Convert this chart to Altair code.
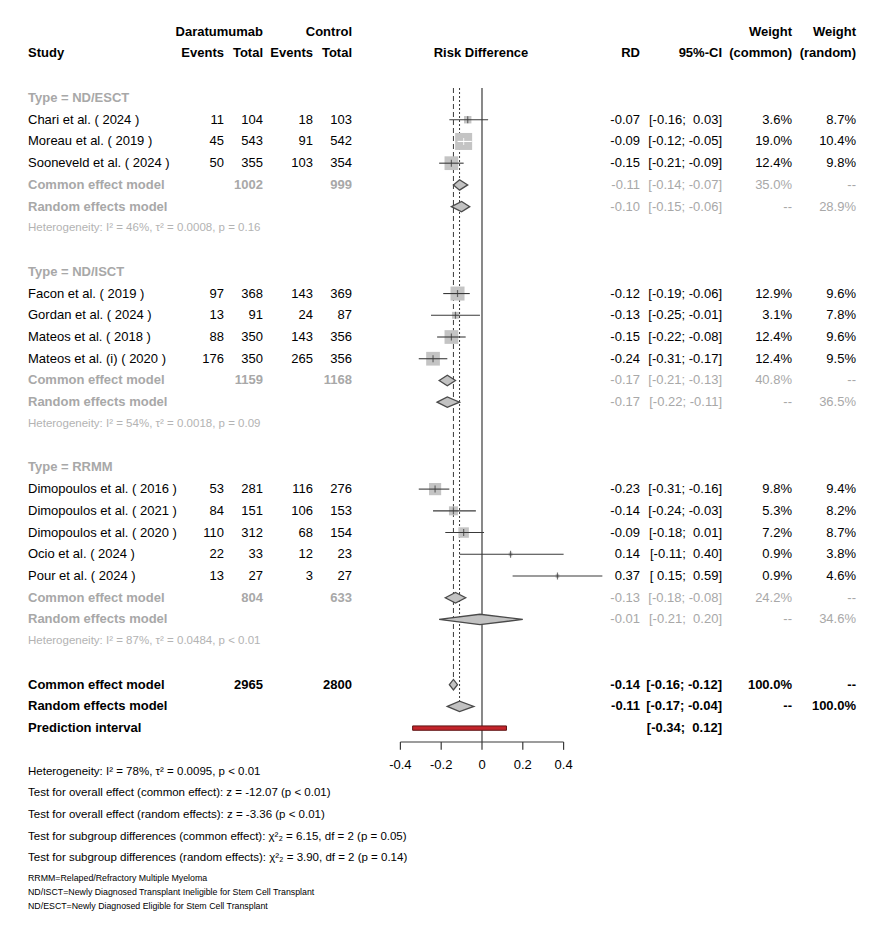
import altair as alt
import pandas as pd
import numpy as np

# ------------------------------------------------------------------ data
groups = ["ND/ESCT", "ND/ISCT", "RRMM"]
studies = ["Chari et al. ( 2024 )", "Moreau et al. ( 2019 )", "Sooneveld et al. ( 2024 )",
           "Facon et al. ( 2019 )", "Gordan et al. ( 2024 )", "Mateos et al. ( 2018 )",
           "Mateos et al. (i) ( 2020 )",
           "Dimopoulos et al. ( 2016 )", "Dimopoulos et al. ( 2021 )", "Dimopoulos et al. ( 2020 )",
           "Ocio et al. ( 2024 )", "Pour et al. ( 2024 )"]
study_group = [0, 0, 0, 1, 1, 1, 1, 2, 2, 2, 2, 2]
ev_d = [11, 45, 50, 97, 13, 88, 176, 53, 84, 110, 22, 13]
tot_d = [104, 543, 355, 368, 91, 350, 350, 281, 151, 312, 33, 27]
ev_c = [18, 91, 103, 143, 24, 143, 265, 116, 106, 68, 12, 3]
tot_c = [103, 542, 354, 369, 87, 356, 356, 276, 153, 154, 23, 27]
rd = [-0.07, -0.09, -0.15, -0.12, -0.13, -0.15, -0.24, -0.23, -0.14, -0.09, 0.14, 0.37]
rd_lo = [-0.16, -0.12, -0.21, -0.19, -0.25, -0.22, -0.31, -0.31, -0.24, -0.18, -0.11, 0.15]
rd_hi = [0.03, -0.05, -0.09, -0.06, -0.01, -0.08, -0.17, -0.16, -0.03, 0.01, 0.40, 0.59]
w_common = [3.6, 19.0, 12.4, 12.9, 3.1, 12.4, 12.4, 9.8, 5.3, 7.2, 0.9, 0.9]
w_random = [8.7, 10.4, 9.8, 9.6, 7.8, 9.6, 9.5, 9.4, 8.2, 8.7, 3.8, 4.6]

grp_tot_d = [1002, 1159, 804]
grp_tot_c = [999, 1168, 633]
grp_ce = [-0.11, -0.17, -0.13]
grp_ce_lo = [-0.14, -0.21, -0.18]
grp_ce_hi = [-0.07, -0.13, -0.08]
grp_re = [-0.10, -0.17, -0.01]
grp_re_lo = [-0.15, -0.22, -0.21]
grp_re_hi = [-0.06, -0.11, 0.20]
grp_w_ce = [35.0, 40.8, 24.2]
grp_w_re = [28.9, 36.5, 34.6]
grp_het = ["Heterogeneity: I\u00b2 = 46%, \u03c4\u00b2 = 0.0008, p = 0.16",
           "Heterogeneity: I\u00b2 = 54%, \u03c4\u00b2 = 0.0018, p = 0.09",
           "Heterogeneity: I\u00b2 = 87%, \u03c4\u00b2 = 0.0484, p < 0.01"]

all_tot_d, all_tot_c = 2965, 2800
all_ce, all_ce_lo, all_ce_hi = -0.14, -0.16, -0.12
all_re, all_re_lo, all_re_hi = -0.11, -0.17, -0.04
pred_lo, pred_hi = -0.34, 0.12

tick_values = [-0.4, -0.2, 0.0, 0.2, 0.4]
tick_labels = ["-0.4", "-0.2", "0", "0.2", "0.4"]

bottom_lines = [
    "Heterogeneity: I\u00b2 = 78%, \u03c4\u00b2 = 0.0095, p < 0.01",
    "Test for overall effect (common effect): z = -12.07 (p < 0.01)",
    "Test for overall effect (random effects): z = -3.36 (p < 0.01)",
    "Test for subgroup differences (common effect): \u03c7\u00b2\u2082 = 6.15, df = 2 (p = 0.05)",
    "Test for subgroup differences (random effects): \u03c7\u00b2\u2082 = 3.90, df = 2 (p = 0.14)",
]
footnotes = [
    "RRMM=Relaped/Refractory Multiple Myeloma",
    "ND/ISCT=Newly Diagnosed Transplant Ineligible for Stem Cell Transplant",
    "ND/ESCT=Newly Diagnosed Eligible for Stem Cell Transplant",
]

# ------------------------------------------------------------------ layout
FONT = "Liberation Sans"
W, H = 870, 930
X0, X1 = -2.3235, 1.9412
Y0, Y1 = -4.142, 38.66
PX_PER_UNIT = W / (X1 - X0)
SQ_MAX_W, SQ_MAX_AREA = 19.0, 289.0
DH = 0.24
BLACK = "#000000"
GREY = "#a8a8a8"
HGREY = "#b3b3b3"
LINE = "#3a3a3a"

xs = alt.Scale(domain=[X0, X1], nice=False, zero=False)
ys = alt.Scale(domain=[Y0, Y1], nice=False, zero=False, reverse=True)


def Yenc(field="row"):
    return alt.Y(f"{field}:Q", scale=ys, axis=None)


def Xenc(field):
    return alt.X(f"{field}:Q", scale=xs, axis=None)


def pad(v):
    return ("\u00a0" if v >= 0 else "") + f"{v:.2f}"


def ci(lo, hi):
    return f"[{pad(lo)}; {pad(hi)}]"


cells = []


def add(row, col, text, bold=False, tone="k"):
    cells.append(dict(row=row, col=col, text=text, bold=bold, tone=tone))


# headers
add(-3.04, "tot_d", "Daratumumab", True)
add(-3.04, "tot_c", "Control", True)
add(-3.04, "wc", "Weight", True)
add(-3.04, "wr", "Weight", True)
add(-2.07, "study", "Study", True)
add(-2.07, "ev_d", "Events", True)
add(-2.07, "tot_d", "Total", True)
add(-2.07, "ev_c", "Events", True)
add(-2.07, "tot_c", "Total", True)
add(-2.07, "rdhead", "Risk Difference", True)
add(-2.07, "rd", "RD", True)
add(-2.07, "ci", "95%-CI", True)
add(-2.07, "wc", "(common)", True)
add(-2.07, "wr", "(random)", True)

study_rows = []
diamonds = []
het_rows = []
row = 0
for g, gname in enumerate(groups):
    add(row, "study", f"Type = {gname}", True, "g")
    row += 1
    for i, s in enumerate(studies):
        if study_group[i] != g:
            continue
        add(row, "study", s)
        add(row, "ev_d", str(ev_d[i]))
        add(row, "tot_d", str(tot_d[i]))
        add(row, "ev_c", str(ev_c[i]))
        add(row, "tot_c", str(tot_c[i]))
        add(row, "rd", f"{rd[i]:.2f}")
        add(row, "ci", ci(rd_lo[i], rd_hi[i]))
        add(row, "wc", f"{w_common[i]:.1f}%")
        add(row, "wr", f"{w_random[i]:.1f}%")
        side = np.sqrt(w_common[i] / SQ_MAX_W * SQ_MAX_AREA)
        inside = (rd_hi[i] - rd_lo[i]) * PX_PER_UNIT < side
        study_rows.append(dict(row=row, rd=rd[i], lo=rd_lo[i], hi=rd_hi[i],
                               w=w_common[i], inside=bool(inside)))
        row += 1
    add(row, "study", "Common effect model", True, "g")
    add(row, "tot_d", str(grp_tot_d[g]), True, "g")
    add(row, "tot_c", str(grp_tot_c[g]), True, "g")
    add(row, "rd", f"{grp_ce[g]:.2f}", False, "g")
    add(row, "ci", ci(grp_ce_lo[g], grp_ce_hi[g]), False, "g")
    add(row, "wc", f"{grp_w_ce[g]:.1f}%", False, "g")
    add(row, "wr", "--", False, "g")
    diamonds.append((f"ce{g}", row, grp_ce[g], grp_ce_lo[g], grp_ce_hi[g]))
    row += 1
    add(row, "study", "Random effects model", True, "g")
    add(row, "rd", f"{grp_re[g]:.2f}", False, "g")
    add(row, "ci", ci(grp_re_lo[g], grp_re_hi[g]), False, "g")
    add(row, "wc", "--", False, "g")
    add(row, "wr", f"{grp_w_re[g]:.1f}%", False, "g")
    diamonds.append((f"re{g}", row, grp_re[g], grp_re_lo[g], grp_re_hi[g]))
    row += 1
    het_rows.append(dict(row=row, text=grp_het[g]))
    row += 2

row_ce = row
add(row, "study", "Common effect model", True)
add(row, "tot_d", str(all_tot_d), True)
add(row, "tot_c", str(all_tot_c), True)
add(row, "rd", f"{all_ce:.2f}", True)
add(row, "ci", ci(all_ce_lo, all_ce_hi), True)
add(row, "wc", "100.0%", True)
add(row, "wr", "--", True)
diamonds.append(("ce", row, all_ce, all_ce_lo, all_ce_hi))
row += 1
row_re = row
add(row, "study", "Random effects model", True)
add(row, "rd", f"{all_re:.2f}", True)
add(row, "ci", ci(all_re_lo, all_re_hi), True)
add(row, "wc", "--", True)
add(row, "wr", "100.0%", True)
diamonds.append(("re", row, all_re, all_re_lo, all_re_hi))
row += 1
row_pred = row
add(row, "study", "Prediction interval", True)
add(row, "ci", ci(pred_lo, pred_hi), True)

axis_row = row_pred + 0.64
cells_df = pd.DataFrame(cells)

cols = {"study": (20, "left"), "ev_d": (216, "right"), "tot_d": (255, "right"),
        "ev_c": (305, "right"), "tot_c": (344, "right"), "rdhead": (473, "center"),
        "rd": (632, "right"), "ci": (714, "right"), "wc": (784, "right"), "wr": (848, "right")}

layers = []

# reference lines
ref = pd.DataFrame([
    dict(kind="solid", x=0.0, y0=-0.46, y1=axis_row),
    dict(kind="dash", x=all_ce, y0=-0.46, y1=row_ce - DH),
    dict(kind="dot", x=all_re, y0=-0.46, y1=row_re - DH),
])
for kind, dash in [("solid", []), ("dash", [5, 3]), ("dot", [2, 2])]:
    sub = ref[ref.kind == kind]
    m = dict(color=LINE, strokeWidth=1.2 if kind == "solid" else 1.0)
    if dash:
        m["strokeDash"] = dash
    layers.append(alt.Chart(sub).mark_rule(**m).encode(
        x=Xenc("x"), y=Yenc("y0"), y2="y1:Q"))

# squares
sdf = pd.DataFrame(study_rows)
layers.append(alt.Chart(sdf).mark_square(color="#c4c4c4", opacity=1, filled=True).encode(
    x=Xenc("rd"), y=Yenc(),
    size=alt.Size("w:Q", scale=alt.Scale(domain=[0, SQ_MAX_W], range=[0, SQ_MAX_AREA]), legend=None)))
for inside, col in [(False, LINE), (True, "#ffffff")]:
    sub = sdf[sdf.inside == inside]
    if len(sub) == 0:
        continue
    layers.append(alt.Chart(sub).mark_rule(color=col, strokeWidth=1.1).encode(
        x=Xenc("lo"), x2="hi:Q", y=Yenc()))
    layers.append(alt.Chart(sub).mark_tick(color=col, orient="vertical", size=7, thickness=1.2).encode(
        x=Xenc("rd"), y=Yenc()))

# diamonds
dpts = []
for did, r, est, lo, hi in diamonds:
    dpts += [dict(id=did, x=lo, y=r, y2=r),
             dict(id=did, x=est, y=r - DH, y2=r + DH),
             dict(id=did, x=hi, y=r, y2=r)]
ddf = pd.DataFrame(dpts)
layers.append(alt.Chart(ddf).mark_area(orient="vertical", fill="#c2c2c2", stroke="#4a4a4a",
                                       strokeWidth=1.3, opacity=1, fillOpacity=1).encode(
    x=Xenc("x"), y=Yenc("y"), y2="y2:Q", detail="id:N"))

# prediction interval
pdf = pd.DataFrame([dict(lo=pred_lo, hi=pred_hi, y0=row_pred - 0.1, y1=row_pred + 0.1)])
layers.append(alt.Chart(pdf).mark_rect(fill="#c3242b", stroke="#5e1414", strokeWidth=1).encode(
    x=Xenc("lo"), x2="hi:Q", y=Yenc("y0"), y2="y1:Q"))

# axis
adf = pd.DataFrame(dict(v=tick_values, lab=tick_labels))
adf["y0"] = axis_row
adf["y1"] = axis_row + 0.36
adf["yl"] = axis_row + 1.05
layers.append(alt.Chart(pd.DataFrame([dict(lo=min(tick_values), hi=max(tick_values), y=axis_row)]))
              .mark_rule(color=LINE, strokeWidth=1.2).encode(x=Xenc("lo"), x2="hi:Q", y=Yenc("y")))
layers.append(alt.Chart(adf).mark_rule(color=LINE, strokeWidth=1.2).encode(
    x=Xenc("v"), y=Yenc("y0"), y2="y1:Q"))
layers.append(alt.Chart(adf).mark_text(font=FONT, fontSize=13, color=BLACK, baseline="middle",
                                       align="center").encode(
    x=Xenc("v"), y=Yenc("yl"), text="lab:N"))

# table text
for col, (px, al) in cols.items():
    for bold in (False, True):
        for tone, colr in (("k", BLACK), ("g", GREY)):
            sub = cells_df[(cells_df.col == col) & (cells_df.bold == bold) & (cells_df.tone == tone)]
            if len(sub) == 0:
                continue
            layers.append(alt.Chart(sub).mark_text(
                font=FONT, fontSize=13, fontWeight="bold" if bold else "normal",
                color=colr, align=al, baseline="middle").encode(
                x=alt.value(px), y=Yenc(), text="text:N"))

# subgroup heterogeneity
layers.append(alt.Chart(pd.DataFrame(het_rows)).mark_text(
    font=FONT, fontSize=11.5, color=HGREY, align="left", baseline="middle").encode(
    x=alt.value(20), y=Yenc(), text="text:N"))

# bottom statistics
bdf = pd.DataFrame(dict(text=bottom_lines, row=[row_pred + 2 + k for k in range(len(bottom_lines))]))
layers.append(alt.Chart(bdf).mark_text(
    font=FONT, fontSize=11.5, color=BLACK, align="left", baseline="middle").encode(
    x=alt.value(20), y=Yenc(), text="text:N"))
fdf = pd.DataFrame(dict(text=footnotes,
                        row=[row_pred + 6.9 + 0.645 * k for k in range(len(footnotes))]))
layers.append(alt.Chart(fdf).mark_text(
    font=FONT, fontSize=8.8, color=BLACK, align="left", baseline="middle").encode(
    x=alt.value(20), y=Yenc(), text="text:N"))

chart = alt.layer(*layers).properties(
    width=W, height=H, autosize=alt.AutoSizeParams(type="none"), padding=0
).configure_view(stroke=None)

chart.save("out.html", embed_options={"renderer": "svg", "actions": False})
